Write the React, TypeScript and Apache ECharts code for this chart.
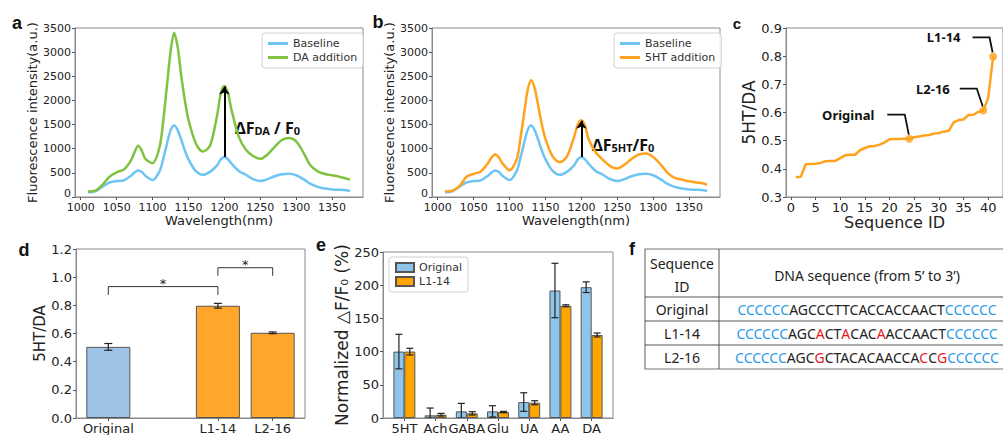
import React, { useEffect, useRef } from "react";
import * as echarts from "echarts";

// ---------------- Data ----------------
const wavelengths = [1010, 1020, 1030, 1040, 1050, 1060, 1070, 1075, 1080, 1085, 1090, 1100, 1110, 1115, 1120, 1125, 1130, 1135, 1140, 1145, 1150, 1160, 1170, 1180, 1190, 1195, 1200, 1205, 1210, 1220, 1230, 1240, 1250, 1260, 1270, 1280, 1290, 1300, 1310, 1320, 1330, 1340, 1350, 1360, 1370, 1375];
const baseline = [97, 115, 210, 300, 330, 345, 440, 510, 550, 520, 440, 350, 540, 800, 1100, 1380, 1480, 1380, 1180, 960, 780, 540, 460, 520, 660, 780, 830, 780, 690, 540, 460, 370, 330, 370, 430, 470, 480, 450, 370, 270, 210, 175, 155, 150, 140, 125];
const daAddition = [115, 130, 250, 420, 510, 570, 760, 930, 1060, 960, 790, 700, 1050, 1600, 2300, 3000, 3400, 3100, 2500, 2000, 1600, 1120, 940, 1060, 1700, 2150, 2300, 2150, 1800, 1250, 980, 850, 790, 880, 1040, 1180, 1220, 1150, 920, 650, 530, 475, 450, 420, 380, 360];
const htAddition = [115, 130, 220, 420, 480, 530, 700, 820, 880, 820, 700, 555, 780, 1200, 1700, 2200, 2420, 2250, 1880, 1500, 1200, 840, 720, 840, 1250, 1500, 1590, 1480, 1200, 920, 770, 640, 590, 670, 790, 880, 900, 830, 680, 500, 395, 360, 325, 300, 280, 250];
const wavelengthTicks = [1000, 1050, 1100, 1150, 1200, 1250, 1300, 1350];
const arrowA = [1200, 830, 2290]; // wavelength, from, to
const arrowB = [1200, 830, 1580];

const ratio = [0.370, 0.372, 0.416, 0.417, 0.418, 0.421, 0.427, 0.428, 0.428, 0.438, 0.448, 0.450, 0.450, 0.466, 0.474, 0.480, 0.481, 0.486, 0.494, 0.505, 0.506, 0.506, 0.507, 0.507, 0.512, 0.515, 0.518, 0.520, 0.525, 0.527, 0.532, 0.535, 0.565, 0.573, 0.575, 0.591, 0.592, 0.602, 0.607, 0.652, 0.799];
const sequenceTicks = [0, 5, 10, 15, 20, 25, 30, 35, 40];
const highlightIds = [24, 39, 41];
const highlightLabels = ["Original", "L2-16", "L1-14"];

const dLabels = ["Original", "L1-14", "L2-16"];
const dPositions = [0, 2, 3];
const dValues = [0.505, 0.797, 0.605];
const dErrors = [0.024, 0.017, 0.006];
const dBrackets = [
  [0, 2, 0.933, 0.874],
  [2, 3, 1.067, 1.01],
];

const eCategories = ["5HT", "Ach", "GABA", "Glu", "UA", "AA", "DA"];
const eOriginal = [100, 4, 10, 10, 24, 192, 197];
const eOriginalErr = [26, 11, 12, 8.5, 14, 41, 8];
const eL114 = [100, 5, 7, 9, 23, 169, 125];
const eL114Err = [5, 2, 2.5, 1, 3, 1.5, 3];

const tableIds = ["Original", "L1-14", "L2-16"];
const tableSeqs = [
  "CCCCCCAGCCCTTCACCACCAACTCCCCCC",
  "CCCCCCAGCACTACACAACCAACTCCCCCC",
  "CCCCCCAGCGCTACACAACCACCGCCCCCC",
];
const tableRed = [[], [9, 12, 16], [9, 21, 23]];

// ---------------- Styles ----------------
const FONT = "DejaVu Sans";
const BLUE = "#6EC4F2";
const GREEN = "#80C241";
const ORANGE = "#FFA31F";
const AXC = "#8a8a8a";
const plain = (v: number) => String(v);
// the zero label of the spectra panels sits a little above its tick, clear of the x labels
const liftedZero = (v: number) => (v === 0 ? "{z|0}" : String(v));

function xAx(gridIndex: number, min: number, max: number, ticks: number[], fontSize: number, name: string, nameGap: number, nameSize: number, formatter: any = plain, margin = 4) {
  return {
    gridIndex, type: "value", min, max,
    axisLine: { show: true, onZero: false, lineStyle: { color: AXC, width: 1 } },
    axisTick: { show: true, length: 3, customValues: ticks, lineStyle: { color: "#555" } },
    splitLine: { show: false },
    axisLabel: { customValues: ticks, color: "#222", fontSize, margin, fontFamily: FONT, formatter },
    name, nameLocation: "middle", nameGap,
    nameTextStyle: { fontSize: nameSize, color: "#222", fontFamily: FONT },
  };
}
function yAx(gridIndex: number, min: number, max: number, interval: number, fontSize: number, name: string, nameGap: number, nameSize: number, formatter: any = plain) {
  return {
    gridIndex, type: "value", min, max, interval,
    axisLine: { show: true, onZero: false, lineStyle: { color: AXC, width: 1 } },
    axisTick: { show: true, length: 3, lineStyle: { color: "#555" } },
    splitLine: { show: false },
    axisLabel: {
      color: "#222", fontSize, margin: 4, fontFamily: FONT, formatter,
      rich: { z: { fontSize, fontFamily: FONT, color: "#222", padding: [0, 0, 8, 0] } },
    },
    name, nameLocation: "middle", nameGap,
    nameTextStyle: { fontSize: nameSize, color: "#222", fontFamily: FONT },
  };
}

function errorBars(axisIndex: number, data: number[][], capW: number) {
  return {
    type: "custom", xAxisIndex: axisIndex, yAxisIndex: axisIndex, silent: true, z: 10, clip: true,
    data, encode: { x: 0, y: [1, 2] },
    renderItem: (_p: any, api: any) => {
      const x = api.value(0);
      const a = api.coord([x, api.value(1)]);
      const b = api.coord([x, api.value(2)]);
      const style = { stroke: "#222", lineWidth: 1.2 };
      return {
        type: "group",
        children: [
          { type: "line", shape: { x1: a[0], y1: a[1], x2: b[0], y2: b[1] }, style },
          { type: "line", shape: { x1: a[0] - capW / 2, y1: a[1], x2: a[0] + capW / 2, y2: a[1] }, style },
          { type: "line", shape: { x1: b[0] - capW / 2, y1: b[1], x2: b[0] + capW / 2, y2: b[1] }, style },
        ],
      };
    },
  };
}

const legendBase = {
  orient: "vertical", itemGap: 3, padding: [5, 6],
  borderColor: "#d0d0d0", borderWidth: 1, borderRadius: 3,
  backgroundColor: "rgba(255,255,255,0.85)",
  textStyle: { fontSize: 11, color: "#333", fontFamily: FONT },
};

function buildOption() {
  const eW = 0.175;
  return {
    animation: false,
    backgroundColor: "#fff",
    textStyle: { fontFamily: FONT },
    grid: [
      { left: 75, top: 28, width: 288, height: 169, show: true, borderColor: AXC, borderWidth: 1 },
      { left: 432, top: 28, width: 288, height: 169, show: true, borderColor: AXC, borderWidth: 1 },
      { left: 786, top: 28, width: 228, height: 169, show: true, borderColor: AXC, borderWidth: 1 },
      { left: 76, top: 249, width: 229, height: 169, show: true, borderColor: AXC, borderWidth: 1 },
      { left: 383, top: 252, width: 230, height: 168, show: true, borderColor: AXC, borderWidth: 1 },
    ],
    xAxis: [
      xAx(0, 992, 1393, wavelengthTicks, 11, "Wavelength(nm)", 15, 13, plain, 5),
      xAx(1, 992, 1393, wavelengthTicks, 11, "Wavelength(nm)", 15, 13, plain, 5),
      xAx(2, -1, 43, sequenceTicks, 13, "Sequence ID", 17, 16),
      xAx(3, -0.59, 3.59, dPositions, 13, "", 0, 13, (v: number) => dLabels[dPositions.indexOf(v)]),
      xAx(4, -0.685, 6.685, eCategories.map((_c, i) => i), 13, "", 0, 13, (v: number) => eCategories[v]),
    ],
    yAxis: [
      yAx(0, 0, 3500, 500, 11, "Fluorescence intensity(a.u.)", 31, 13, liftedZero),
      yAx(1, 0, 3500, 500, 11, "Fluorescence intensity(a.u.)", 28, 13, liftedZero),
      yAx(2, 0.3, 0.9, 0.1, 13, "5HT/DA", 25, 17, (v: number) => v.toFixed(1)),
      yAx(3, 0, 1.2, 0.2, 13, "5HT/DA", 26, 15, (v: number) => v.toFixed(1)),
      yAx(4, 0, 250, 50, 13, "Normalized △F/F₀ (%)", 32, 17),
    ],
    legend: [
      { ...legendBase, left: 262, top: 33, data: ["Baseline", "DA addition"], icon: "rect", itemWidth: 20, itemHeight: 3 },
      { ...legendBase, left: 614, top: 33, data: ["Baseline", "5HT addition"], icon: "rect", itemWidth: 20, itemHeight: 3 },
      { ...legendBase, left: 389, top: 257, data: ["Original", "L1-14"], icon: "rect", itemWidth: 18, itemHeight: 9 },
    ],
    series: [
      {
        name: "Baseline", type: "line", xAxisIndex: 0, yAxisIndex: 0, showSymbol: false, symbol: "none", smooth: 0.3,
        color: BLUE, lineStyle: { width: 2.5, color: BLUE }, data: wavelengths.map((w, i) => [w, baseline[i]]),
      },
      {
        name: "DA addition", type: "line", xAxisIndex: 0, yAxisIndex: 0, showSymbol: false, symbol: "none", smooth: 0.3,
        color: GREEN, lineStyle: { width: 2.5, color: GREEN }, data: wavelengths.map((w, i) => [w, daAddition[i]]),
        markLine: {
          silent: true, symbol: ["none", "arrow"], symbolSize: 8, label: { show: false },
          lineStyle: { color: "#000", width: 2, type: "solid" },
          data: [[{ coord: [arrowA[0], arrowA[1]] }, { coord: [arrowA[0], arrowA[2]] }]],
        },
      },
      {
        name: "Baseline", type: "line", xAxisIndex: 1, yAxisIndex: 1, showSymbol: false, symbol: "none", smooth: 0.3,
        color: BLUE, lineStyle: { width: 2.5, color: BLUE }, data: wavelengths.map((w, i) => [w, baseline[i]]),
      },
      {
        name: "5HT addition", type: "line", xAxisIndex: 1, yAxisIndex: 1, showSymbol: false, symbol: "none", smooth: 0.3,
        color: ORANGE, lineStyle: { width: 2.5, color: ORANGE }, data: wavelengths.map((w, i) => [w, htAddition[i]]),
        markLine: {
          silent: true, symbol: ["none", "arrow"], symbolSize: 8, label: { show: false },
          lineStyle: { color: "#000", width: 2, type: "solid" },
          data: [[{ coord: [arrowB[0], arrowB[1]] }, { coord: [arrowB[0], arrowB[2]] }]],
        },
      },
      {
        name: "ratio", type: "line", xAxisIndex: 2, yAxisIndex: 2, showSymbol: false, symbol: "none",
        color: ORANGE, lineStyle: { width: 2.5, color: ORANGE }, data: ratio.map((v, i) => [i + 1, v]),
      },
      {
        name: "highlight", type: "scatter", xAxisIndex: 2, yAxisIndex: 2, symbolSize: 8, color: ORANGE,
        data: highlightIds.map((id) => [id, ratio[id - 1]]),
      },
      {
        name: "dbars", type: "bar", xAxisIndex: 3, yAxisIndex: 3, barWidth: 44,
        data: dPositions.map((x, i) => ({
          value: [x, dValues[i]],
          itemStyle: { color: i === 0 ? "#9DC3E6" : "#FFA62B", borderColor: "#555", borderWidth: 1 },
        })),
      },
      errorBars(3, dPositions.map((x, i) => [x, dValues[i] - dErrors[i], dValues[i] + dErrors[i]]), 8),
      {
        type: "custom", xAxisIndex: 3, yAxisIndex: 3, silent: true, z: 10,
        data: dBrackets, encode: { x: [0, 1], y: [2, 3] },
        renderItem: (_p: any, api: any) => {
          const pL = api.coord([api.value(0), api.value(3)]);
          const pLT = api.coord([api.value(0), api.value(2)]);
          const pRT = api.coord([api.value(1), api.value(2)]);
          const pR = api.coord([api.value(1), api.value(3)]);
          return {
            type: "group",
            children: [
              { type: "polyline", shape: { points: [pL, pLT, pRT, pR] }, style: { stroke: "#333", lineWidth: 1, fill: "none" } },
              { type: "text", x: (pLT[0] + pRT[0]) / 2, y: pLT[1] - 3, style: { text: "*", fontSize: 13, fill: "#222", align: "center", verticalAlign: "middle", fontFamily: FONT } },
            ],
          };
        },
      },
      {
        name: "Original", type: "bar", xAxisIndex: 4, yAxisIndex: 4, barWidth: 11, barGap: "-100%",
        color: "#8EC5EA", itemStyle: { color: "#8EC5EA", borderColor: "#555", borderWidth: 1 },
        data: eOriginal.map((v, i) => [i - eW, v]),
      },
      {
        name: "L1-14", type: "bar", xAxisIndex: 4, yAxisIndex: 4, barWidth: 11, barGap: "-100%",
        color: "#FFA500", itemStyle: { color: "#FFA500", borderColor: "#555", borderWidth: 1 },
        data: eL114.map((v, i) => [i + eW, v]),
      },
      errorBars(
        4,
        [
          ...eOriginal.map((v, i) => [i - eW, v - eOriginalErr[i], v + eOriginalErr[i]]),
          ...eL114.map((v, i) => [i + eW, v - eL114Err[i], v + eL114Err[i]]),
        ],
        7
      ),
    ],
  };
}

function seqRich(seq: string, red: number[]) {
  const segs: { s: string; t: string }[] = [];
  for (let i = 0; i < seq.length; i++) {
    const s = i < 6 || i >= seq.length - 6 ? "bl" : red.includes(i) ? "rd" : "bk";
    if (segs.length && segs[segs.length - 1].s === s) segs[segs.length - 1].t += seq[i];
    else segs.push({ s, t: seq[i] });
  }
  return segs.map((g) => `{${g.s}|${g.t}}`).join("");
}

function buildGraphics(chart: any) {
  const g: any[] = [];
  const label = (t: string, x: number, y: number, size = 18) =>
    g.push({ type: "text", x, y, silent: true, style: { text: t, fontSize: size, fontWeight: "bold", fontFamily: "Liberation Sans", fill: "#111", align: "center", verticalAlign: "middle" } });
  label("a", 17, 23);
  label("b", 378, 22);
  label("c", 737, 23, 15);
  label("d", 24, 250);
  label("e", 321, 245);
  label("f", 632, 249);

  const annRich = {
    m: { fontSize: 16, fontWeight: "bold", fontFamily: "Noto Sans", lineHeight: 22, verticalAlign: "bottom", fill: "#111" },
    s: { fontSize: 11, fontWeight: "bold", fontFamily: "Noto Sans", lineHeight: 10, verticalAlign: "bottom", fill: "#111" },
  };
  g.push({ type: "text", x: 235, y: 125, silent: true, style: { text: "{m|ΔF}{s|DA}{m| / F}{s|0}", rich: annRich, verticalAlign: "middle", align: "left" } });
  g.push({ type: "text", x: 592, y: 142, silent: true, style: { text: "{m|ΔF}{s|5HT}{m|/F}{s|0}", rich: annRich, verticalAlign: "middle", align: "left" } });

  // panel c annotations
  const offs = [
    { ty: -24, ex: -4.5, sx: -22, tx: -35 },
    { ty: -22, ex: -6.5, sx: -23.5, tx: -33.5 },
    { ty: -19, ex: -3.6, sx: -20.6, tx: -32.6 },
  ];
  highlightIds.forEach((id, k) => {
    const p = chart.convertToPixel({ gridIndex: 2 }, [id, ratio[id - 1]]);
    const o = offs[k];
    g.push({
      type: "polyline", silent: true,
      shape: { points: [[p[0] + o.sx, p[1] + o.ty], [p[0] + o.ex, p[1] + o.ty], [p[0] - 0.5, p[1] - 4]] },
      style: { stroke: "#111", lineWidth: 1.8, fill: null },
    });
    g.push({
      type: "text", silent: true, x: p[0] + o.tx, y: p[1] + o.ty,
      style: { text: highlightLabels[k], fontSize: 13, fontWeight: "bold", fontFamily: "Noto Sans", fill: "#111", align: "right", verticalAlign: "middle" },
    });
  });

  // table f
  const tL = 645, tC = 719, tR = 1025;
  const rows = [249, 297, 321, 345, 369];
  const lc = "#555";
  g.push({ type: "rect", silent: true, shape: { x: tL, y: rows[0], width: tR - tL, height: rows[4] - rows[0] }, style: { stroke: "#777", lineWidth: 1.2, fill: "#fff" } });
  rows.slice(1, 4).forEach((y) => g.push({ type: "line", silent: true, shape: { x1: tL, y1: y, x2: tR, y2: y }, style: { stroke: lc, lineWidth: 1 } }));
  g.push({ type: "line", silent: true, shape: { x1: tC, y1: rows[0], x2: tC, y2: rows[4] }, style: { stroke: lc, lineWidth: 1 } });
  const tf = "Noto Sans";
  const tt = (t: string, x: number, y: number) =>
    g.push({ type: "text", silent: true, x, y, style: { text: t, fontSize: 14, fontFamily: tf, fill: "#222", align: "center", verticalAlign: "middle" } });
  tt("Sequence", 682, 263);
  tt("ID", 682, 286);
  tt("DNA sequence (from 5’ to 3’)", 867, 275);
  const rich = {
    bl: { fontSize: 14, fontFamily: tf, fill: "#2E9BE3" },
    bk: { fontSize: 14, fontFamily: tf, fill: "#222" },
    rd: { fontSize: 14, fontFamily: tf, fill: "#E8161E" },
  };
  tableIds.forEach((id, i) => {
    const cy = (rows[i + 1] + rows[i + 2]) / 2;
    tt(id, 682, cy);
    g.push({ type: "text", silent: true, x: 867, y: cy, style: { text: seqRich(tableSeqs[i], tableRed[i]), rich, align: "center", verticalAlign: "middle" } });
  });
  return g;
}

export default function App() {
  const ref = useRef<HTMLDivElement>(null);
  useEffect(() => {
    const chart = echarts.init(ref.current!, null, { renderer: "svg" });
    chart.setOption(buildOption() as any);
    chart.setOption({ graphic: buildGraphics(chart) } as any);
    return () => chart.dispose();
  }, []);
  return <div ref={ref} style={{ position: "fixed", left: 0, top: 0, width: 1003, height: 435, background: "#fff" }} />;
}
